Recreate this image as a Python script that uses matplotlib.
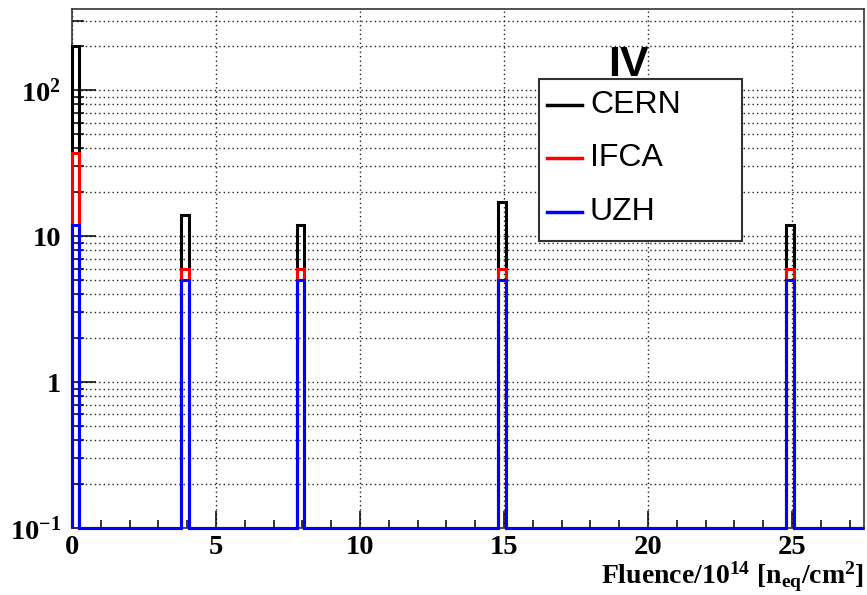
import numpy as np
import matplotlib
matplotlib.use("Agg")
import matplotlib.pyplot as plt
from matplotlib.ticker import FixedLocator, FixedFormatter, LogLocator, NullFormatter, MultipleLocator
from matplotlib.patches import Rectangle
from matplotlib.lines import Line2D

# ---- data ----
fluence = [0, 4, 8, 15, 25]
uzh = [12, 5, 5, 5, 5]
ifca = [25, 1, 1, 1, 1]
cern = [163, 8, 6, 11, 6]
series_names = ["CERN", "IFCA", "UZH"]
series_colors = ["black", "red", "blue"]
x_ticks = [0, 5, 10, 15, 20, 25]
y_ticks = [0.1, 1, 10, 100]
y_tick_labels = [r"$\mathbf{10^{-1}}$", "1", "10", r"$\mathbf{10^{2}}$"]

plt.rcParams['mathtext.fontset'] = 'custom'
plt.rcParams['mathtext.rm'] = 'Liberation Serif:bold'
plt.rcParams['mathtext.bf'] = 'Liberation Serif:bold'
plt.rcParams['mathtext.it'] = 'Liberation Serif:bold'

XMAX = 27.5
YMIN, YMAX = 0.1, 360
BIN_LO, BIN_W = 0.2, 0.26

fig = plt.figure(figsize=(8.67, 5.95), dpi=100)
ax = fig.add_axes([72/867, (595-528)/595, (864-72)/867, (528-9)/595])
ax.set_yscale('log')
ax.set_xlim(0, XMAX)
ax.set_ylim(YMIN, YMAX)

# stacked totals
uzh_a = np.array(uzh, float)
ifca_tot = uzh_a + np.array(ifca, float)
cern_tot = ifca_tot + np.array(cern, float)

edges = []
for v in fluence:
    lo = max(v - BIN_LO, 0)
    edges += [lo, lo + BIN_W]
edges.append(XMAX)
edges = np.array(edges)

def step_vals(tot):
    vals = []
    for t in tot:
        vals += [t, YMIN]
    return np.array(vals)

for tot, col in zip([cern_tot, ifca_tot, uzh_a], series_colors):
    ax.stairs(step_vals(tot), edges, baseline=YMIN, color=col, lw=2.2,
              clip_on=False, zorder=3)

# grids
ax.grid(True, which='major', axis='x', linestyle=(0, (1, 2.2)), color='#222222', lw=1.0)
ax.grid(True, which='both', axis='y', linestyle=(0, (1, 2.2)), color='#222222', lw=1.0)

ax.xaxis.set_major_locator(FixedLocator(x_ticks))
ax.xaxis.set_minor_locator(MultipleLocator(1))
ax.yaxis.set_major_locator(FixedLocator(y_ticks))
ax.yaxis.set_major_formatter(FixedFormatter(y_tick_labels))
ax.yaxis.set_minor_locator(LogLocator(base=10, subs=np.arange(2, 10)))
ax.yaxis.set_minor_formatter(NullFormatter())

for lab in ax.get_xticklabels() + ax.get_yticklabels():
    lab.set_fontfamily('Liberation Serif')
    lab.set_fontweight('bold')
ax.tick_params(axis='x', which='major', direction='in', length=12, width=1.1, pad=5, labelsize=20.5)
ax.tick_params(axis='x', which='minor', direction='in', length=6, width=1.1)
ax.tick_params(axis='y', which='major', direction='in', length=17, width=1.1, pad=8, labelsize=20.5)
ax.tick_params(axis='y', which='minor', direction='in', length=8.5, width=1.1)
for s in ax.spines.values():
    s.set_linewidth(1.2)
    s.set_color('#333333')

ax.set_xlabel(r"Fluence/10$^{14}$ [n$_{\mathrm{eq}}$/cm$^{2}$]", fontfamily='Liberation Serif',
              fontweight='bold', fontsize=20)
ax.xaxis.set_label_coords(1.0, -0.107)
ax.xaxis.label.set_horizontalalignment('right')
ax.xaxis.label.set_verticalalignment('baseline')

# title (behind legend)
fig.text(628/867, (595-45)/595, "IV", ha='center', va='top', fontsize=31,
         fontweight='bold', fontfamily='Liberation Sans', zorder=1)

# legend box
lx0, ly0, lx1, ly1 = 539, 79, 742, 241
fig.patches.append(Rectangle((lx0/867, (595-ly1)/595), (lx1-lx0)/867, (ly1-ly0)/595,
                             transform=fig.transFigure, facecolor='white',
                             edgecolor='#333333', lw=1.5, zorder=5))
rows = [105, 158, 212]
for name, col, ry in zip(series_names, series_colors, rows):
    fy = (595-ry)/595
    fig.lines.append(Line2D([547/867, 582/867], [fy, fy], transform=fig.transFigure,
                            color=col, lw=2.5, zorder=6))
    fig.text(590/867, fy, name, ha='left', va='center', fontsize=23,
             fontfamily='Liberation Sans', zorder=6)

fig.savefig("out.png", dpi=100)
